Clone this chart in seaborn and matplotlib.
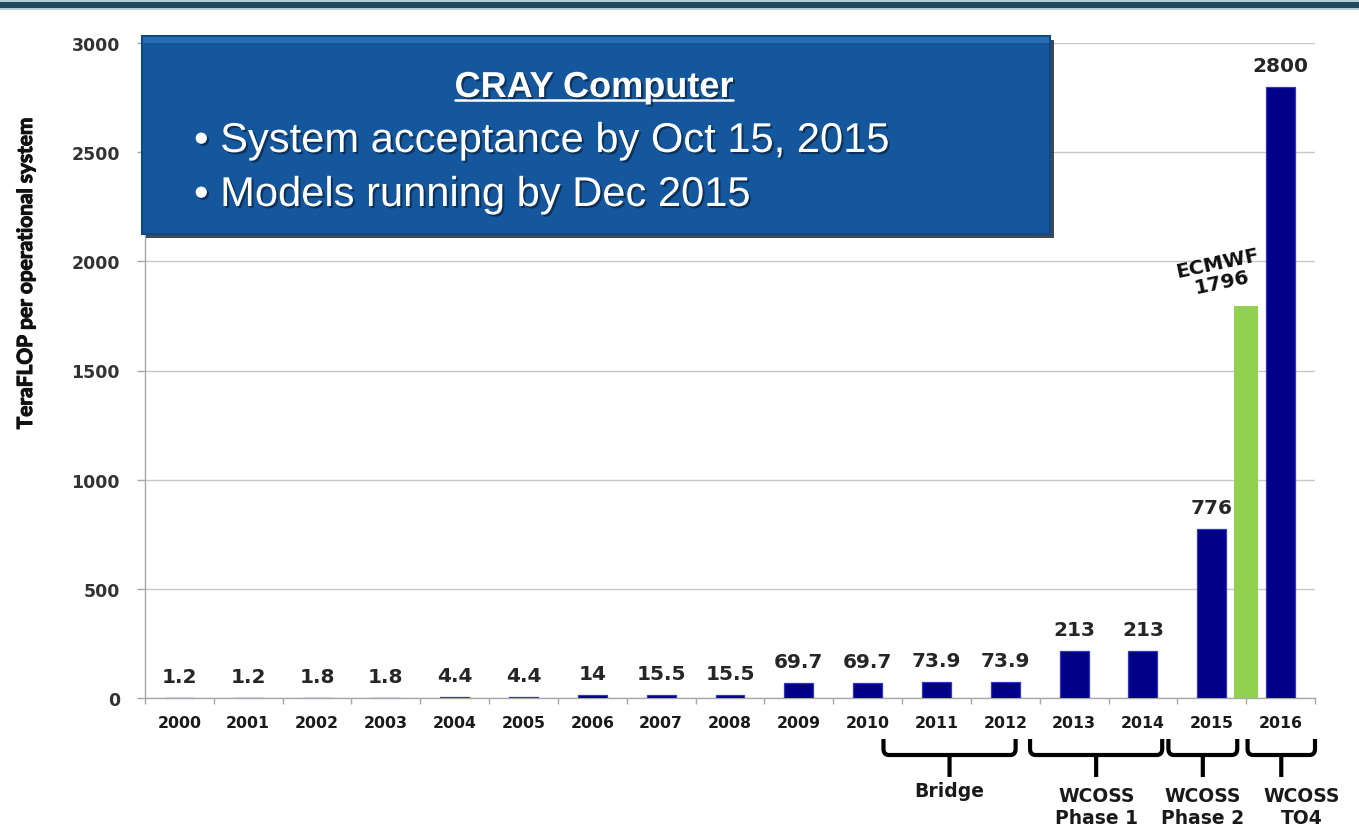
import numpy as np
import pandas as pd
import seaborn as sns
import matplotlib
matplotlib.use("Agg")
import matplotlib.pyplot as plt
from matplotlib.patches import Rectangle, PathPatch
from matplotlib.path import Path
from matplotlib.lines import Line2D
import matplotlib.transforms as mtransforms
import matplotlib.patheffects as pe

# ---------------- data ----------------
years = ["2000", "2001", "2002", "2003", "2004", "2005", "2006", "2007", "2008",
         "2009", "2010", "2011", "2012", "2013", "2014", "2015", "2016"]
teraflops = [1.2, 1.2, 1.8, 1.8, 4.4, 4.4, 14, 15.5, 15.5,
             69.7, 69.7, 73.9, 73.9, 213, 213, 776, 2800]
value_labels = ["1.2", "1.2", "1.8", "1.8", "4.4", "4.4", "14", "15.5", "15.5",
                "69.7", "69.7", "73.9", "73.9", "213", "213", "776", "2800"]
ecmwf_label = "ECMWF"
ecmwf_value = 1796
y_ticks = [0, 500, 1000, 1500, 2000, 2500, 3000]
y_label = "TeraFLOP per operational system"
box_title = "CRAY Computer"
box_bullets = ["System acceptance by Oct 15, 2015", "Models running by Dec 2015"]
bracket_labels = ["Bridge", "WCOSS\nPhase 1", "WCOSS\nPhase 2", "WCOSS\nTO4"]
bracket_spans = [(10.23, 12.15), (12.36, 14.28), (14.37, 15.37), (15.52, 16.5)]

NAVY = "#000088"
GREEN = "#92D050"
BOX = "#14579d"

# ---------------- figure ----------------
sns.set_style("white")
plt.rcParams["font.family"] = ["DejaVu Sans"]

W, H = 1359, 828
fig = plt.figure(figsize=(W / 100, H / 100), dpi=100)
fig.patch.set_facecolor("white")
ax = fig.add_axes([145 / W, 129 / H, 1170 / W, 655 / H])

df = pd.DataFrame({"year": years, "tf": teraflops})
sns.barplot(data=df, x="year", y="tf", color=NAVY, saturation=1, width=0.42,
            linewidth=0.9, edgecolor="#3434c8", ax=ax, zorder=3)
ax.bar(len(years) - 1.5, ecmwf_value, width=0.35, color=GREEN, zorder=3, linewidth=0)

ax.set_xlim(-0.5, len(years) - 0.5)
ax.set_ylim(0, 3000)
ax.set_yticks(y_ticks)
ax.set_yticklabels([str(t) for t in y_ticks])
ax.yaxis.grid(True, color="#c8c8c8", linewidth=1)
ax.xaxis.grid(False)
ax.set_axisbelow(True)
ax.set_xlabel("")
ax.set_ylabel("")

for s in ["top", "right"]:
    ax.spines[s].set_visible(False)
for s in ["left", "bottom"]:
    ax.spines[s].set_color("#a8a8a8")
    ax.spines[s].set_linewidth(1)

ax.tick_params(axis="y", which="major", length=6, width=1, color="#a8a8a8",
               labelcolor="#333333", labelsize=12.5, pad=12, direction="out", left=True)
for lbl in ax.get_yticklabels():
    lbl.set_fontweight("bold")

ax.tick_params(axis="x", which="major", length=0, labelcolor="#1a1a1a",
               labelsize=11.3, pad=12.5)
for lbl in ax.get_xticklabels():
    lbl.set_fontweight("bold")
ax.set_xticks(np.arange(-0.5, len(years), 1.0), minor=True)
ax.tick_params(axis="x", which="minor", length=4, width=1, color="#a8a8a8",
               direction="out", bottom=True)

# value labels
for i, (v, lab) in enumerate(zip(teraflops, value_labels)):
    ax.annotate(lab, (i, v), xytext=(0, 15.5), textcoords="offset points",
                ha="center", va="center", fontsize=14.5, fontweight="bold",
                color="#262626", zorder=5)

ax.annotate(ecmwf_label + "\n" + str(ecmwf_value), (len(years) - 1.5, ecmwf_value),
            xytext=(-19, 24), textcoords="offset points", ha="center", va="center",
            multialignment="center", rotation=12, fontsize=14.5, fontweight="bold",
            color="#111111", linespacing=1.0, zorder=5)

# y axis label
fig.text(26 / W, 1 - 274 / H, y_label, rotation=90, ha="center", va="center",
         fontsize=15, fontweight="bold", color="#111111",
         family=["Lato", "DejaVu Sans"],
         path_effects=[pe.withStroke(linewidth=0.8, foreground="#111111")])

# ---------------- text box ----------------
def fx(px):
    return px / W


def fy(py):
    return 1 - py / H


bx0, by0, bx1, by1 = 142, 37, 1050, 235
fig.add_artist(Rectangle((fx(bx0 + 4), fy(by1 + 4)), fx(bx1 - bx0), (by1 - by0) / H,
                         transform=fig.transFigure, facecolor="#1c2a3a", alpha=0.85,
                         edgecolor="none", zorder=4))
fig.add_artist(Rectangle((fx(bx0), fy(by1)), fx(bx1 - bx0), (by1 - by0) / H,
                         transform=fig.transFigure, facecolor=BOX, edgecolor="#0f4a86",
                         linewidth=1.5, zorder=5))
fig.add_artist(Rectangle((fx(bx0 + 1), fy(by0 + 7)), fx(bx1 - bx0 - 2), 6 / H,
                         transform=fig.transFigure, facecolor="#3a7fc2", alpha=0.55,
                         edgecolor="none", zorder=5.5))

shadow = [pe.withSimplePatchShadow(offset=(1.5, -1.5), shadow_rgbFace="#0a2340", alpha=0.7)]
title = fig.text(fx(594), fy(98), box_title, ha="center", va="baseline", color="white",
                 fontsize=26, fontweight="bold", family=["Liberation Sans", "DejaVu Sans"],
                 zorder=6, path_effects=shadow)
for k, line in enumerate(box_bullets):
    fig.text(fx(194), fy(153 + 54 * k), "\u2022 " + line, ha="left", va="baseline",
             color="white", fontsize=30, family=["Liberation Sans", "DejaVu Sans"],
             zorder=6, path_effects=shadow)

fig.canvas.draw()
bb = title.get_window_extent()
fig.add_artist(Line2D([bb.x0 / W, bb.x1 / W], [fy(101), fy(101)], transform=fig.transFigure,
                      color="white", linewidth=1.8, zorder=6))

# ---------------- top border ----------------
fig.add_artist(Rectangle((0, fy(11)), 1, 10 / H, transform=fig.transFigure,
                         facecolor="#b7cdd5", edgecolor="none", zorder=6))
fig.add_artist(Rectangle((0, fy(8.5)), 1, 5.5 / H, transform=fig.transFigure,
                         facecolor="#1f4a5a", edgecolor="none", zorder=6.5))

# ---------------- brackets ----------------
btrans = mtransforms.blended_transform_factory(ax.transData, fig.transFigure)
r = 0.08
for (x0, x1), lab in zip(bracket_spans, bracket_labels):
    xm = (x0 + x1) / 2
    yt, yh, ys = fy(740), fy(756), fy(778)
    yc = fy(750)
    verts = [(x0, yt), (x0, yc), (x0, yh), (x0 + r, yh), (x1 - r, yh), (x1, yh), (x1, yc),
             (x1, yt), (xm, yh), (xm, ys)]
    codes = [Path.MOVETO, Path.LINETO, Path.CURVE3, Path.CURVE3, Path.LINETO, Path.CURVE3,
             Path.CURVE3, Path.LINETO, Path.MOVETO, Path.LINETO]
    fig.add_artist(PathPatch(Path(verts, codes), transform=btrans, facecolor="none",
                             edgecolor="black", linewidth=3, capstyle="butt",
                             joinstyle="round", clip_on=False, zorder=6))
    if lab == "Bridge":
        fig.text(xm, fy(792), lab, transform=btrans, ha="center", va="center",
                 fontsize=13.5, fontweight="bold", color="#1a1a1a")
    else:
        t = fig.text(xm, fy(808), lab, transform=btrans, ha="center", va="center",
                     multialignment="center", fontsize=13.5, fontweight="bold",
                     color="#1a1a1a", linespacing=1.2)
        if "TO4" in lab:
            t.set_x(xm + 0.3)

fig.savefig("out.png", dpi=100, facecolor="white")
